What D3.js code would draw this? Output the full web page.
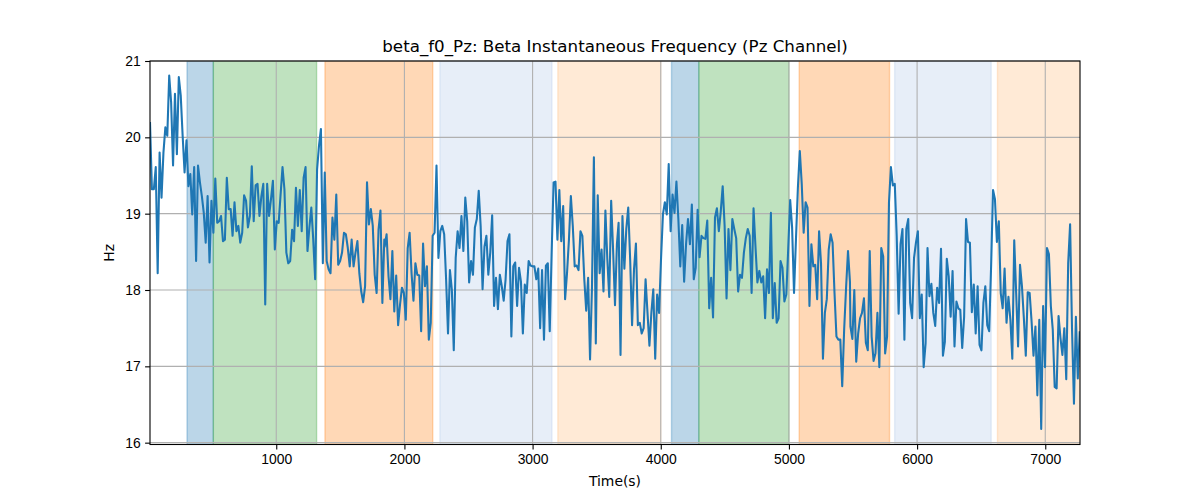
<!DOCTYPE html>
<html>
<head>
<meta charset="utf-8">
<script src="https://cdn.jsdelivr.net/npm/d3@7"></script>
<style>
  body { margin: 0; background: #fff; }
  svg { font-family: "DejaVu Sans", sans-serif; }
  .axis text { font-size: 13.9px; fill: #000; }
  .axis path, .axis line { stroke: #000; stroke-width: 1.1px; }
  .grid line { stroke: #b0b0b0; stroke-width: 1.1px; }
</style>
</head>
<body>
<div id="chart"></div>
<script>
// Beta instantaneous frequency (Hz) in four stretches
const segStart = [15, 1846, 3671, 5480];
const segEnd = [1843, 3658, 5476, 7269];

const hzA = [20.20,19.32,19.32,19.61,18.22,19.80,19.21,19.80,20.13,20.02,20.81,20.46,19.63,20.57,19.78,20.79,20.55,20.02,19.54,19.96,
  19.36,19.52,18.99,19.61,18.38,19.63,19.41,19.23,19.01,18.62,19.23,18.36,19.17,18.75,19.46,18.88,18.90,18.97,18.64,18.66,
  19.47,19.06,19.06,18.71,19.15,18.77,18.84,18.62,18.75,19.24,19.17,18.82,18.97,19.62,18.90,19.37,19.39,18.97,19.23,19.39,
  17.81,19.39,18.97,19.19,19.43,18.53,18.90,18.88,19.25,19.61,19.32,18.49,18.35,18.38,18.79,18.64,19.34,18.84,19.31,18.77,
  19.47,19.61,18.51,18.82,19.08,18.66,18.14,19.58,19.89,20.11,18.35,19.54,18.38,18.27,18.22,18.95,18.66,19.25,18.33,18.38,
  18.49,18.75,18.73,18.55,18.31,18.66,18.31,18.49,18.64,18.22,17.98,17.84,18.05,19.41,18.86,19.06,18.84,18.20,17.96,18.79,
  19.04,17.83,18.66];

const hzB = [18.57,18.73,18.18,17.88,18.51,17.72,18.19,17.54,17.81,18.03,17.96,17.61,18.55,18.75,18.22,17.86,18.35,18.20,18.19,
  17.46,18.61,18.05,18.31,17.35,17.57,18.71,18.75,19.63,18.42,18.77,18.84,18.73,18.14,17.43,18.26,18.00,17.21,18.42,18.77,
  18.55,18.97,18.51,19.21,18.90,18.10,18.38,18.20,18.82,18.93,19.30,18.84,18.01,18.57,18.71,18.20,18.49,18.98,17.79,18.16,
  17.75,18.20,18.05,17.86,18.14,18.64,18.73,17.39,18.31,18.36,17.79,18.29,18.11,17.43,18.07,17.96,18.38,18.32,18.31,18.31,
  18.14,18.28,17.50,18.26,17.35,18.32,18.35,17.46,18.49,19.41,19.42,18.66,19.31,18.64,19.10,17.88,18.22,18.66,19.23,18.84,
  18.31,18.32,18.26,18.77,18.71,18.14,17.73,18.16,17.09,18.03,19.74,17.30,19.24,18.22,18.53,17.98,19.04,18.40,17.91,19.17,
  18.53,17.80,18.60];

const hzC = [18.88,17.15,18.97,18.28,18.80,19.08,18.40,17.54,18.27,18.61,17.54,17.57,17.43,17.50,18.14,17.70,17.27,17.70,18.01,
  17.10,17.94,17.70,18.40,18.99,19.15,18.99,19.65,18.77,19.25,19.01,19.42,18.93,18.31,18.85,18.11,18.60,18.93,18.60,19.12,
  18.14,18.29,19.05,18.43,18.71,18.68,18.67,18.91,17.76,18.16,17.64,18.95,19.07,18.77,19.03,19.36,18.84,17.89,18.80,18.26,
  18.93,18.80,18.68,17.98,18.20,18.16,18.49,18.68,18.80,18.71,17.96,19.07,18.57,18.10,18.25,18.10,18.18,17.63,18.27,17.96,
  19.01,17.63,18.09,17.57,17.63,18.38,18.29,17.85,17.94,18.55,19.18,18.82,17.96,18.66,19.34,19.82,19.39,18.75,19.15,19.08,
  17.79,18.60,18.31,18.33,17.88,18.77,18.35,17.10,17.70,17.88,18.53,18.73,18.62,17.96,17.39,17.35,17.35,16.74,17.48,18.03,
  18.51,18.11];

const hzD = [17.52,17.36,18.00,17.06,17.43,17.63,17.70,17.89,17.31,17.21,18.51,17.39,17.07,17.17,17.70,16.99,18.55,18.44,17.17,
  17.39,19.15,19.61,19.37,19.39,18.71,17.69,18.60,18.80,17.35,18.80,18.93,17.83,17.63,18.42,18.62,18.77,17.63,17.94,16.99,
  17.30,18.55,17.92,18.08,17.70,17.53,18.03,17.83,18.54,17.14,17.32,18.41,18.18,17.65,18.25,17.26,17.85,17.76,17.74,17.24,
  17.65,18.93,18.63,18.62,17.71,18.07,17.43,18.05,17.28,17.21,17.83,18.05,17.54,17.46,18.31,19.31,19.19,18.63,18.90,17.96,
  17.76,18.28,17.57,17.91,17.61,17.10,18.65,17.96,17.26,18.33,18.05,17.63,17.14,17.97,17.96,17.59,17.14,17.52,16.62,17.61,
  16.18,17.79,16.99,18.55,18.47,17.79,17.48,16.73,16.71,17.66,17.37,17.15,17.50,16.83,18.35,18.86,17.48,16.51,17.65,16.84,
  17.46];

// shaded task intervals (seconds)
const bandStart = [304, 509, 1380, 2277, 3197, 4084, 4297, 5080, 5825, 6627];
const bandEnd = [509, 1315, 2221, 3151, 4000, 4297, 5000, 5785, 6578, 7400];
const bandColor = ['#1f77b4', '#2ca02c', '#ff7f0e', '#aec7e8', '#ffbb78',
                   '#1f77b4', '#2ca02c', '#ff7f0e', '#aec7e8', '#ffbb78'];

const xTicks = [1000, 2000, 3000, 4000, 5000, 6000, 7000];
const yTicks = [16, 17, 18, 19, 20, 21];

// build time/value pairs, evenly spaced inside each stretch
const series = [];
[hzA, hzB, hzC, hzD].forEach((vals, s) => {
  const step = (segEnd[s] - segStart[s]) / (vals.length - 1);
  vals.forEach((v, i) => series.push({t: segStart[s] + i * step, hz: v}));
});

const width = 1200, height = 500;
const margin = {top: 61, right: 120, bottom: 55.5, left: 150};
const w = width - margin.left - margin.right;
const h = height - margin.top - margin.bottom;

const svg = d3.select('#chart').append('svg')
    .attr('width', width)
    .attr('height', height);

const chart = svg.append('g')
    .attr('transform', `translate(${margin.left},${margin.top})`);

const xScale = d3.scaleLinear().domain([15, 7271]).range([0, w]);
const yScale = d3.scaleLinear().domain([15.976, 21.0]).range([h, 0]);

chart.append('clipPath').attr('id', 'clip')
  .append('rect').attr('width', w).attr('height', h);

// spans
chart.append('g').attr('clip-path', 'url(#clip)')
  .selectAll('rect')
  .data(bandStart)
  .join('rect')
    .attr('x', (d, i) => xScale(d))
    .attr('y', 0)
    .attr('width', (d, i) => xScale(bandEnd[i]) - xScale(d))
    .attr('height', h)
    .attr('fill', (d, i) => bandColor[i])
    .attr('fill-opacity', 0.3)
    .attr('stroke', (d, i) => bandColor[i])
    .attr('stroke-opacity', 0.3)
    .attr('stroke-width', 1.4);

// grid
const grid = chart.append('g').attr('class', 'grid');
grid.selectAll('.gx').data(xTicks).join('line')
    .attr('x1', d => xScale(d)).attr('x2', d => xScale(d))
    .attr('y1', 0).attr('y2', h);
grid.selectAll('.gy').data(yTicks).join('line')
    .attr('y1', d => yScale(d)).attr('y2', d => yScale(d))
    .attr('x1', 0).attr('x2', w);

// line
const line = d3.line()
    .x(d => xScale(d.t))
    .y(d => yScale(d.hz));

chart.append('path')
    .datum(series)
    .attr('clip-path', 'url(#clip)')
    .attr('fill', 'none')
    .attr('stroke', '#1f77b4')
    .attr('stroke-width', 2.08)
    .attr('stroke-linejoin', 'round')
    .attr('d', line);

// axes
const xAxis = d3.axisBottom(xScale).tickValues(xTicks).tickFormat(d3.format('d'))
    .tickSize(4.9).tickPadding(4.5).tickSizeOuter(0);
const yAxis = d3.axisLeft(yScale).tickValues(yTicks).tickFormat(d3.format('d'))
    .tickSize(4.9).tickPadding(4.5).tickSizeOuter(0);

chart.append('g').attr('class', 'axis')
    .attr('transform', `translate(0,${h})`)
    .call(xAxis)
    .call(g => g.select('.domain').remove());
chart.append('g').attr('class', 'axis')
    .call(yAxis)
    .call(g => g.select('.domain').remove());

// frame
chart.append('rect')
    .attr('width', w).attr('height', h)
    .attr('fill', 'none')
    .attr('stroke', '#000')
    .attr('stroke-width', 1.1);

// titles
svg.append('text')
    .attr('x', margin.left + w / 2)
    .attr('y', 52)
    .attr('text-anchor', 'middle')
    .style('font-size', '16.7px')
    .text('beta_f0_Pz: Beta Instantaneous Frequency (Pz Channel)');

svg.append('text')
    .attr('x', margin.left + w / 2)
    .attr('y', 486)
    .attr('text-anchor', 'middle')
    .style('font-size', '13.9px')
    .text('Time(s)');

svg.append('text')
    .attr('transform', `translate(114,${margin.top + h / 2}) rotate(-90)`)
    .attr('text-anchor', 'middle')
    .style('font-size', '13.9px')
    .text('Hz');
</script>
</body>
</html>
